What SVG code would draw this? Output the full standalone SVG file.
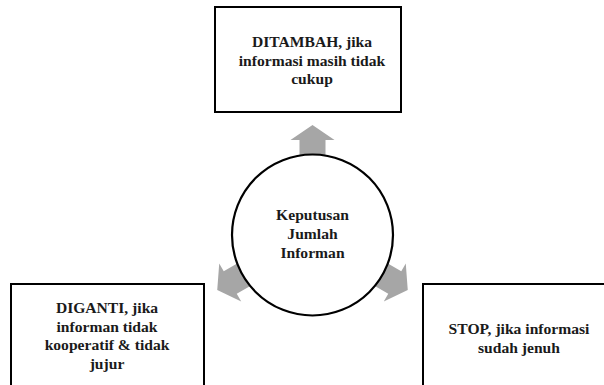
<svg xmlns="http://www.w3.org/2000/svg" width="604" height="385" viewBox="0 0 604 385">
<defs>
<style>
.box{fill:#fff;stroke:#000;stroke-width:2}
.arrow{fill:#a6a6a6;stroke:none}
text{font-family:"Liberation Serif","Times New Roman",serif;font-weight:bold;font-size:15.6px;fill:#1a1a1a;text-anchor:middle}
</style>
<polygon id="arr" class="arrow" points="0,-110 22,-95 13,-95 13,-70 -13,-70 -13,-95 -22,-95"/>
</defs>
<rect width="604" height="385" fill="#fff"/>
<g id="connectors">
<use href="#arr" transform="translate(312.5,235)"/>
<use href="#arr" transform="translate(312.5,235) rotate(120)"/>
<use href="#arr" transform="translate(312.5,235) rotate(-120)"/>
</g>
<g id="center">
<circle cx="312.5" cy="235" r="80.5" fill="#fff" stroke="#000" stroke-width="2.2"/>
<text x="312.5" y="220">Keputusan</text>
<text x="312.5" y="239">Jumlah</text>
<text x="312.5" y="258">Informan</text>
</g>
<g id="top">
<rect class="box" x="215" y="7" width="186" height="105"/>
<text x="312" y="47">DITAMBAH, jika</text>
<text x="312" y="65.5">informasi masih tidak</text>
<text x="312" y="84">cukup</text>
</g>
<g id="left">
<rect class="box" x="11" y="284" width="193" height="110"/>
<text x="107" y="313">DIGANTI, jika</text>
<text x="107" y="331.5">informan tidak</text>
<text x="107" y="350">kooperatif &amp; tidak</text>
<text x="107" y="368.5">jujur</text>
</g>
<g id="right">
<rect class="box" x="423" y="284" width="192" height="110"/>
<text x="519" y="334">STOP, jika informasi</text>
<text x="519" y="352.5">sudah jenuh</text>
</g>
</svg>
